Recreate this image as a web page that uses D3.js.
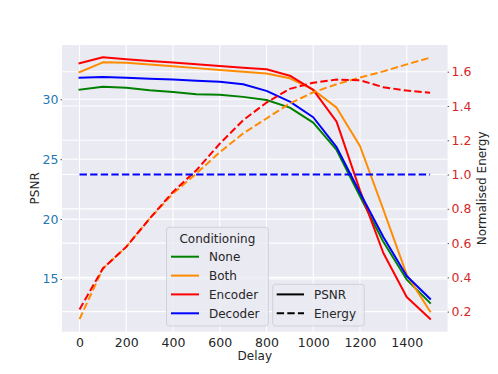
<!DOCTYPE html>
<html>
<head>
<meta charset="utf-8">
<script src="https://cdn.jsdelivr.net/npm/d3@7"></script>
<style>
  html, body { margin: 0; padding: 0; background: #ffffff; }
  svg { display: block; font-family: "DejaVu Sans", sans-serif; }
</style>
</head>
<body>
<svg id="chart" width="498" height="374"></svg>
<script>
// ---------------- data ----------------
const delays = [0, 100, 200, 300, 400, 500, 600, 700, 800, 900, 1000, 1100, 1200, 1300, 1400, 1500];

const psnrNone    = [30.8, 31.05, 30.97, 30.75, 30.6, 30.42, 30.38, 30.2, 29.94, 29.3, 28.05, 25.77, 21.9, 18.1, 14.95, 13.0];
const psnrBoth    = [32.27, 33.08, 33.05, 32.9, 32.75, 32.6, 32.45, 32.3, 32.15, 31.75, 30.8, 29.3, 26.1, 20.8, 15.36, 12.3];
const psnrEncoder = [33.0, 33.5, 33.35, 33.2, 33.07, 32.92, 32.78, 32.63, 32.5, 31.97, 30.78, 28.13, 22.4, 17.17, 13.5, 11.68];
const psnrDecoder = [31.8, 31.86, 31.8, 31.72, 31.65, 31.55, 31.47, 31.25, 30.7, 29.8, 28.5, 26.0, 22.2, 18.5, 15.25, 13.35];

const energyBoth    = [0.156, 0.452, 0.578, 0.743, 0.889, 1.006, 1.13, 1.24, 1.327, 1.415, 1.48, 1.527, 1.566, 1.602, 1.643, 1.682];
const energyEncoder = [0.213, 0.452, 0.578, 0.743, 0.899, 1.025, 1.18, 1.317, 1.42, 1.50, 1.536, 1.554, 1.55, 1.51, 1.49, 1.478];
const energyDecoder = [1.0, 1.0, 1.0, 1.0, 1.0, 1.0, 1.0, 1.0, 1.0, 1.0, 1.0, 1.0, 1.0, 1.0, 1.0, 1.0];

const conditionNames = ["None", "Both", "Encoder", "Decoder"];
const conditionColors = ["#008000", "#ff8c00", "#ff0000", "#0000ff"];
const styleNames = ["PSNR", "Energy"];

const xTicks = [0, 200, 400, 600, 800, 1000, 1200, 1400];
const psnrTicks = [15, 20, 25, 30];
const energyTicks = [0.2, 0.4, 0.6, 0.8, 1.0, 1.2, 1.4, 1.6];

const xDomain = [-75, 1575];
const psnrDomain = [10.6, 34.53];
const energyDomain = [0.083, 1.756];

// ---------------- layout ----------------
const svg = d3.select("#chart");
const plot = { left: 62, right: 447.6, top: 45, bottom: 331.7 };
const bg = "#eaeaf2";
const font = "DejaVu Sans, sans-serif";
const tickFont = 12.5;

const x = d3.scaleLinear().domain(xDomain).range([plot.left, plot.right]);
const yL = d3.scaleLinear().domain(psnrDomain).range([plot.bottom, plot.top]);
const yR = d3.scaleLinear().domain(energyDomain).range([plot.bottom, plot.top]);

svg.append("rect")
  .attr("x", plot.left).attr("y", plot.top)
  .attr("width", plot.right - plot.left).attr("height", plot.bottom - plot.top)
  .attr("fill", bg);

// grid
const grid = svg.append("g").attr("stroke", "#ffffff").attr("stroke-width", 1.1);
grid.selectAll("line.gx").data(xTicks).join("line")
  .attr("x1", d => x(d)).attr("x2", d => x(d))
  .attr("y1", plot.top).attr("y2", plot.bottom);
grid.selectAll("line.gl").data(psnrTicks).join("line")
  .attr("x1", plot.left).attr("x2", plot.right)
  .attr("y1", d => yL(d)).attr("y2", d => yL(d));
grid.selectAll("line.gr").data(energyTicks).join("line")
  .attr("x1", plot.left).attr("x2", plot.right)
  .attr("y1", d => yR(d)).attr("y2", d => yR(d));

// axes (ticks and labels via d3 axes)
const xAxis = d3.axisBottom(x).tickValues(xTicks).tickSize(0).tickPadding(6).tickFormat(d3.format("d"));
const gx = svg.append("g").attr("transform", `translate(0,${plot.bottom})`).call(xAxis);
gx.select(".domain").remove();
gx.selectAll("text").attr("font-family", font).attr("font-size", tickFont).attr("fill", "#262626");

const lAxis = d3.axisLeft(yL).tickValues(psnrTicks).tickSize(1.5).tickPadding(2).tickFormat(d3.format("d"));
const gl = svg.append("g").attr("transform", `translate(${plot.left},0)`).call(lAxis);
gl.select(".domain").remove();
gl.selectAll("line").attr("stroke", "#555");
gl.selectAll("text").attr("font-family", font).attr("font-size", tickFont).attr("fill", "#1f77b4");

const rAxis = d3.axisRight(yR).tickValues(energyTicks).tickSize(1.5).tickPadding(2.5).tickFormat(d3.format(".1f"));
const gr = svg.append("g").attr("transform", `translate(${plot.right},0)`).call(rAxis);
gr.select(".domain").remove();
gr.selectAll("line").attr("stroke", "#555");
gr.selectAll("text").attr("font-family", font).attr("font-size", tickFont).attr("fill", "#d62728");

// axis titles
svg.append("text").text("Delay")
  .attr("x", (plot.left + plot.right) / 2).attr("y", 359.5)
  .attr("text-anchor", "middle").attr("font-family", font).attr("font-size", 12).attr("fill", "#262626");
svg.append("text").text("PSNR")
  .attr("transform", `translate(38.5,${(plot.top + plot.bottom) / 2}) rotate(-90)`)
  .attr("text-anchor", "middle").attr("font-family", font).attr("font-size", 12).attr("fill", "#262626");
svg.append("text").text("Normalised Energy")
  .attr("transform", `translate(485.5,${(plot.top + plot.bottom) / 2}) rotate(-90)`)
  .attr("text-anchor", "middle").attr("font-family", font).attr("font-size", 12).attr("fill", "#262626");

// lines
const clip = svg.append("clipPath").attr("id", "clip").append("rect")
  .attr("x", plot.left).attr("y", plot.top)
  .attr("width", plot.right - plot.left).attr("height", plot.bottom - plot.top);
const lines = svg.append("g").attr("clip-path", "url(#clip)");

const psnrSeries = [psnrNone, psnrBoth, psnrEncoder, psnrDecoder];
const lineL = d3.line().x((d, i) => x(delays[i])).y(d => yL(d));
const lineR = d3.line().x((d, i) => x(delays[i])).y(d => yR(d));

psnrSeries.forEach((s, k) => {
  lines.append("path").datum(s)
    .attr("d", lineL).attr("fill", "none")
    .attr("stroke", conditionColors[k]).attr("stroke-width", 2)
    .attr("stroke-linejoin", "round").attr("stroke-linecap", "square");
});

const energySeries = [
  { data: energyBoth, color: conditionColors[1] },
  { data: energyEncoder, color: conditionColors[2] },
  { data: energyDecoder, color: conditionColors[3] }
];
energySeries.forEach(s => {
  lines.append("path").datum(s.data)
    .attr("d", lineR).attr("fill", "none")
    .attr("stroke", s.color).attr("stroke-width", 2)
    .attr("stroke-dasharray", "7.4,3.2");
});

// legends
function legendBox(x0, y0, w, h) {
  svg.append("rect").attr("x", x0).attr("y", y0).attr("width", w).attr("height", h)
    .attr("rx", 3).attr("ry", 3)
    .attr("fill", bg).attr("fill-opacity", 0.8)
    .attr("stroke", "#d0d0d8").attr("stroke-width", 1);
}

// Conditioning legend
legendBox(166.5, 227.3, 101.8, 98.7);
svg.append("text").text("Conditioning")
  .attr("x", 217.4).attr("y", 242.5)
  .attr("text-anchor", "middle").attr("font-family", font).attr("font-size", 12).attr("fill", "#262626");
const rowY = [256.7, 275.6, 294.4, 313.3];
conditionNames.forEach((n, i) => {
  svg.append("line").attr("x1", 171).attr("x2", 199).attr("y1", rowY[i]).attr("y2", rowY[i])
    .attr("stroke", conditionColors[i]).attr("stroke-width", 2);
  svg.append("text").text(n).attr("x", 209).attr("y", rowY[i] + 4.3)
    .attr("font-family", font).attr("font-size", 12).attr("fill", "#262626");
});

// Style legend
legendBox(272.7, 284.3, 91.6, 41.7);
styleNames.forEach((n, i) => {
  svg.append("line").attr("x1", 276.7).attr("x2", 304).attr("y1", rowY[i + 2]).attr("y2", rowY[i + 2])
    .attr("stroke", "#000000").attr("stroke-width", 2)
    .attr("stroke-dasharray", i === 1 ? "7.4,3.2" : null);
  svg.append("text").text(n).attr("x", 314).attr("y", rowY[i + 2] + 4.3)
    .attr("font-family", font).attr("font-size", 12).attr("fill", "#262626");
});
</script>
</body>
</html>
